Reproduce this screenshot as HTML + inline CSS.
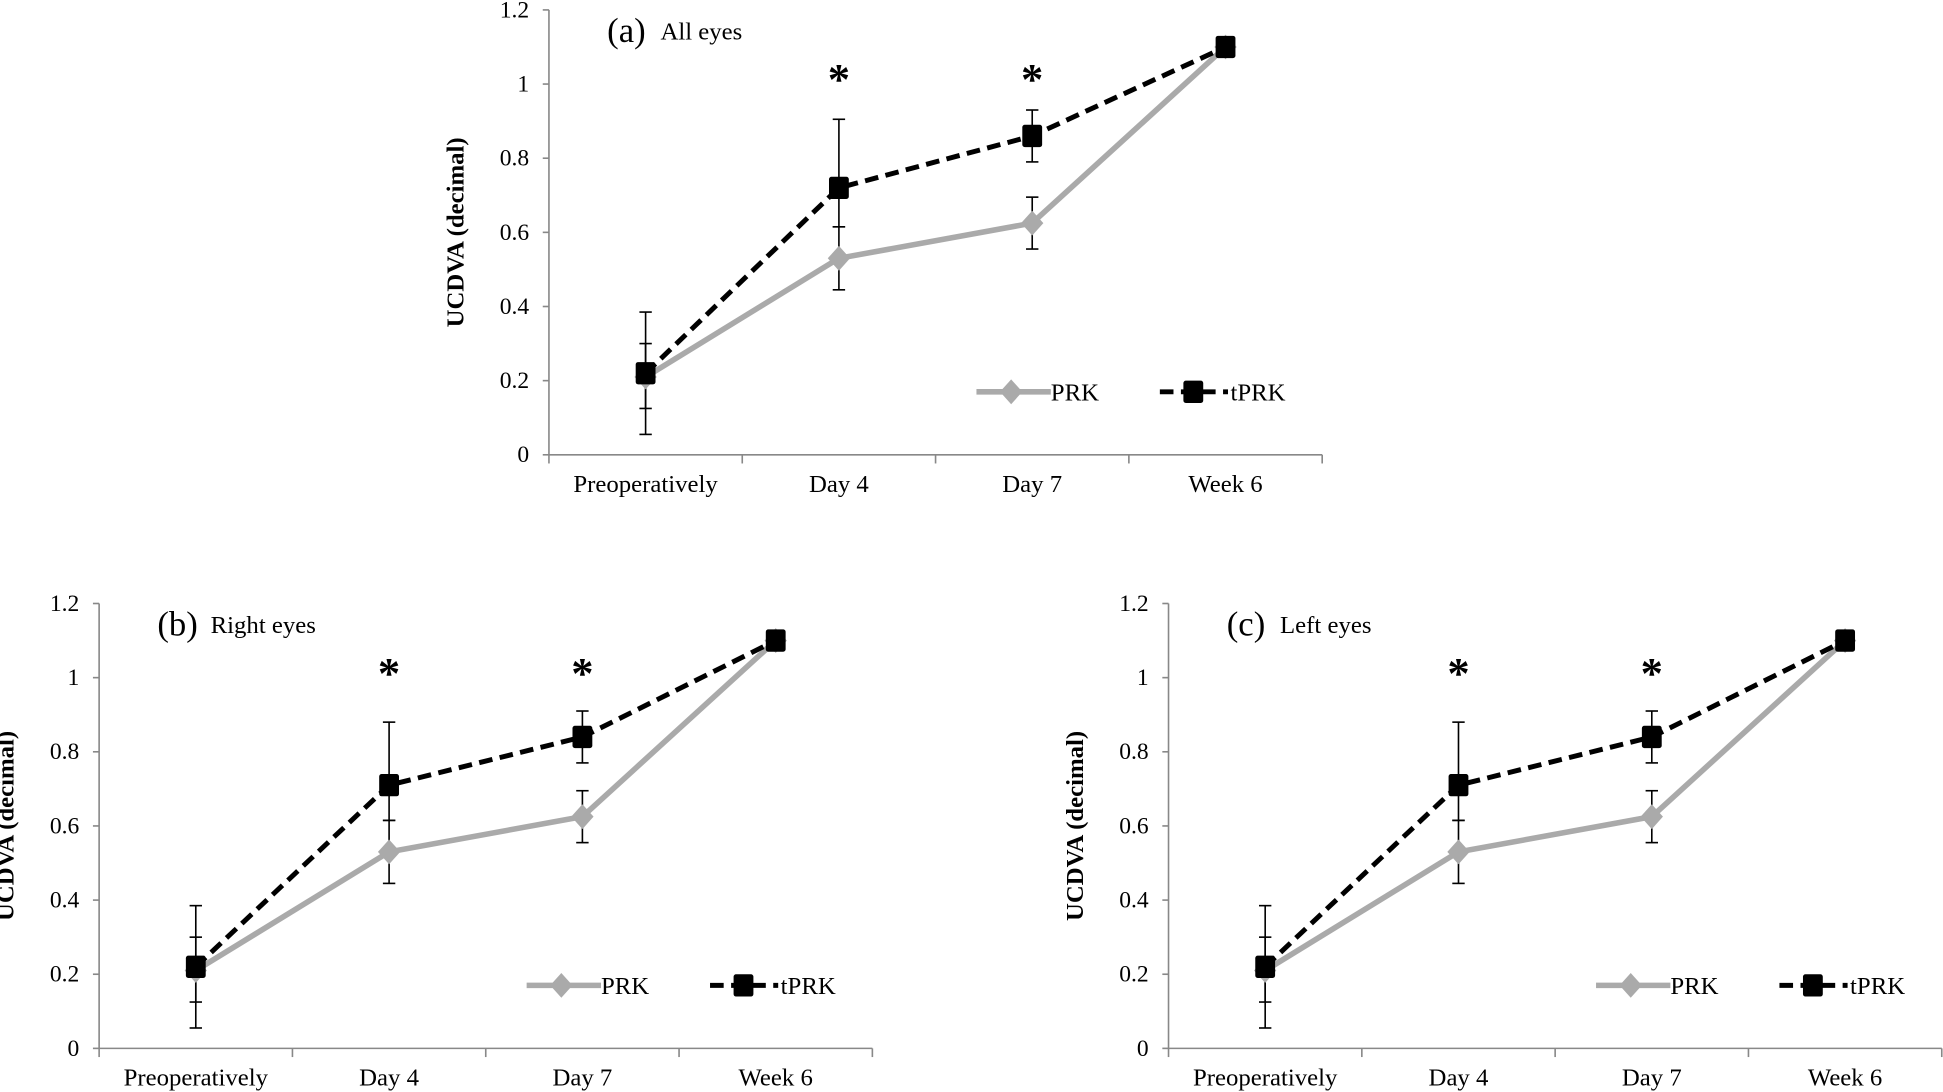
<!DOCTYPE html>
<html><head><meta charset="utf-8"><style>
html,body{margin:0;padding:0;background:#fff;}
svg{display:block;}
text{font-family:"Liberation Serif",serif;fill:#000;}
</style></head><body>
<svg id="s" width="1943" height="1092" viewBox="0 0 1568 881.2" preserveAspectRatio="none" xmlns="http://www.w3.org/2000/svg"></svg>
<script>
const s=document.getElementById('s');
let h='';
function chart(ax,y0,ytop,lab,title,ytx,prk,tprk,perr,terr,lx){
  const yy=v=>y0-(y0-ytop)*v/1.2;
  const cx=i=>ax+78+156*i;
  h+=`<line x1="${ax}" y1="${ytop}" x2="${ax}" y2="${y0}" stroke="#888" stroke-width="1.3"/>`;
  h+=`<line x1="${ax}" y1="${y0}" x2="${ax+624}" y2="${y0}" stroke="#888" stroke-width="1.3"/>`;
  for(let i=0;i<=6;i++){const y=yy(i*0.2);
    h+=`<line x1="${ax-5}" y1="${y}" x2="${ax}" y2="${y}" stroke="#888" stroke-width="1.3"/>`;
    h+=`<text x="${ax-16}" y="${y+6}" font-size="19" text-anchor="end">${i==0?'0':i==5?'1':(i*0.2).toFixed(1)}</text>`;}
  for(let i=0;i<=4;i++){h+=`<line x1="${ax+156*i}" y1="${y0}" x2="${ax+156*i}" y2="${y0+7}" stroke="#888" stroke-width="1.3"/>`;}
  ['Preoperatively','Day 4','Day 7','Week 6'].forEach((t,i)=>{h+=`<text x="${cx(i)}" y="${y0+30}" font-size="20" text-anchor="middle">${t}</text>`;});
  const ym=(ytop+y0)/2;
  h+=`<text x="${ytx}" y="${ym}" font-size="20" font-weight="bold" text-anchor="middle" transform="rotate(-90 ${ytx} ${ym})">UCDVA (decimal)</text>`;
  h+=`<text x="${ax+47}" y="${ytop+26}" font-size="28">${lab}</text><text x="${ax+90}" y="${ytop+24}" font-size="20">${title}</text>`;
  const eb=(i,lo,hi)=>{const x=cx(i);h+=`<line x1="${x}" y1="${yy(lo)}" x2="${x}" y2="${yy(hi)}" stroke="#000" stroke-width="1.3"/>`;
    [lo,hi].forEach(v=>{h+=`<line x1="${x-5}" y1="${yy(v)}" x2="${x+5}" y2="${yy(v)}" stroke="#000" stroke-width="1.3"/>`;});};
  perr.forEach((e,i)=>{if(e)eb(i,e[0],e[1]);});
  terr.forEach((e,i)=>{if(e)eb(i,e[0],e[1]);});
  h+=`<polyline points="${prk.map((v,i)=>cx(i)+','+yy(v)).join(' ')}" fill="none" stroke="#aaa" stroke-width="4.5"/>`;
  prk.forEach((v,i)=>{const x=cx(i),y=yy(v);h+=`<polygon points="${x},${y-10} ${x+9},${y} ${x},${y+10} ${x-9},${y}" fill="#aaa"/>`;});
  h+=`<polyline points="${tprk.map((v,i)=>cx(i)+','+yy(v)).join(' ')}" fill="none" stroke="#000" stroke-width="4" stroke-dasharray="11,6"/>`;
  tprk.forEach((v,i)=>{const x=cx(i),y=yy(v);h+=`<rect x="${x-8}" y="${y-9}" width="16" height="18" rx="2" fill="#000"/>`;});
  [1,2].forEach(i=>{h+=`<text x="${cx(i)}" y="${ytop+68}" font-size="36" font-weight="bold" text-anchor="middle">*</text>`;});
  const ly=yy(0.2)+9;
  h+=`<line x1="${lx}" y1="${ly}" x2="${lx+60}" y2="${ly}" stroke="#aaa" stroke-width="4.5"/>`;
  h+=`<polygon points="${lx+28},${ly-10} ${lx+37},${ly} ${lx+28},${ly+10} ${lx+19},${ly}" fill="#aaa"/>`;
  h+=`<text x="${lx+60}" y="${ly+7}" font-size="20">PRK</text>`;
  h+=`<line x1="${lx+148}" y1="${ly}" x2="${lx+203}" y2="${ly}" stroke="#000" stroke-width="4" stroke-dasharray="11,6"/>`;
  h+=`<rect x="${lx+167}" y="${ly-9}" width="16" height="18" rx="2" fill="#000"/>`;
  h+=`<text x="${lx+205}" y="${ly+7}" font-size="20">tPRK</text>`;
}
chart(443,367,8,'(a)','All eyes',374,[0.21,0.53,0.625,1.1],[0.22,0.72,0.86,1.1],
  [[0.125,0.3],[0.445,0.615],[0.555,0.695],null],[[0.055,0.385],[0.615,0.905],[0.79,0.93],null],788);
chart(80,846,487,'(b)','Right eyes',11,[0.21,0.53,0.625,1.1],[0.22,0.71,0.84,1.1],
  [[0.125,0.3],[0.445,0.615],[0.555,0.695],null],[[0.055,0.385],[0.615,0.88],[0.77,0.91],null],425);
chart(943,846,487,'(c)','Left eyes',874,[0.21,0.53,0.625,1.1],[0.22,0.71,0.84,1.1],
  [[0.125,0.3],[0.445,0.615],[0.555,0.695],null],[[0.055,0.385],[0.615,0.88],[0.77,0.91],null],1288);
s.innerHTML=h;
</script>
</body></html>
